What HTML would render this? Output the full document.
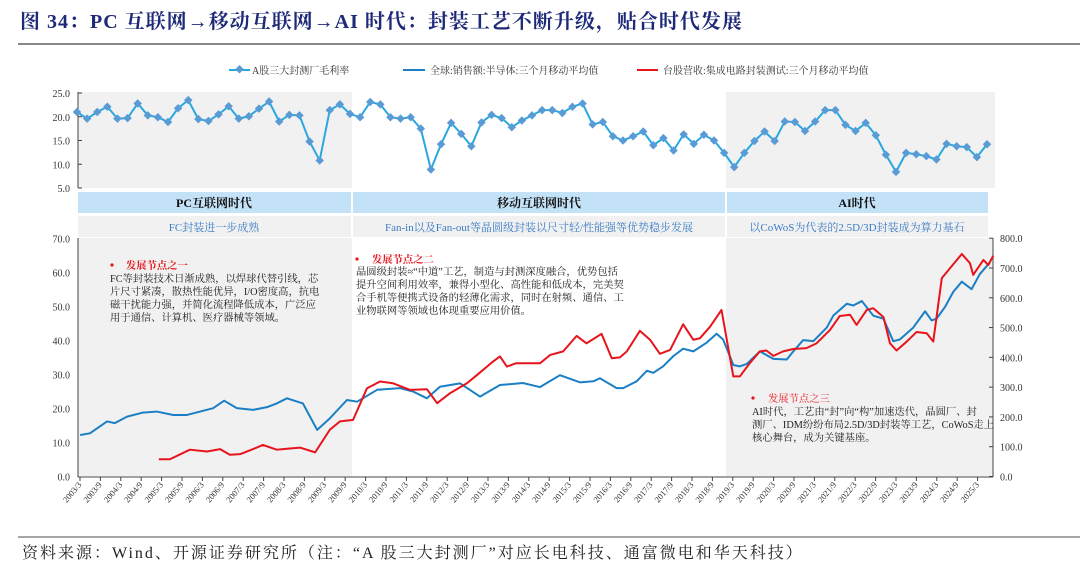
<!DOCTYPE html>
<html><head><meta charset="utf-8">
<style>
html,body{margin:0;padding:0;background:#fff;}
body{width:1080px;height:573px;overflow:hidden;font-family:"Liberation Serif","Noto Serif CJK SC",serif;}
svg text{font-family:"Liberation Serif","Noto Serif CJK SC",serif;}
</style></head>
<body>
<svg id="chart" width="1080" height="573" viewBox="0 0 1080 573" xmlns="http://www.w3.org/2000/svg">
  <text x="20" y="28" font-size="20" font-weight="bold" fill="#1e2a78" letter-spacing="1">图 34：PC 互联网→移动互联网→AI 时代：封装工艺不断升级，贴合时代发展</text>
  <line x1="18" y1="44" x2="1080" y2="44" stroke="#888" stroke-width="2"/>
  <g font-size="10" fill="#333">
    <g>
      <line x1="229" y1="70" x2="250" y2="70" stroke="#29a8e0" stroke-width="2"/>
      <rect x="236" y="66.5" width="6" height="6" transform="rotate(45 239.5 70)" fill="#5b9bd5"/>
      <text x="252" y="74">A股三大封测厂毛利率</text>
    </g>
    <g>
      <line x1="403" y1="70" x2="425" y2="70" stroke="#1a7fc4" stroke-width="2"/>
      <text x="430" y="74">全球:销售额:半导体:三个月移动平均值</text>
    </g>
    <g>
      <line x1="637" y1="70" x2="658" y2="70" stroke="#e8141b" stroke-width="2"/>
      <text x="663" y="74">台股营收:集成电路封装测试:三个月移动平均值</text>
    </g>
  </g>
  <g id="topChart"></g>
  <g>
    <rect x="78" y="192" width="273" height="21" fill="#c4e2f7"/>
    <rect x="353" y="192" width="372" height="21" fill="#c4e2f7"/>
    <rect x="727" y="192" width="261" height="21" fill="#c4e2f7"/>
    <text x="214" y="207" text-anchor="middle" font-size="12" font-weight="bold" fill="#111">PC互联网时代</text>
    <text x="539" y="207" text-anchor="middle" font-size="12" font-weight="bold" fill="#111">移动互联网时代</text>
    <text x="857" y="207" text-anchor="middle" font-size="12" font-weight="bold" fill="#111">AI时代</text>
    <rect x="78" y="216" width="273" height="21" fill="#f1f1f1"/>
    <rect x="353" y="216" width="372" height="21" fill="#f1f1f1"/>
    <rect x="727" y="216" width="261" height="21" fill="#f1f1f1"/>
    <text x="214" y="231" text-anchor="middle" font-size="11" fill="#3b7cc4">FC封装进一步成熟</text>
    <text x="539" y="231" text-anchor="middle" font-size="11" fill="#3b7cc4">Fan-in以及Fan-out等晶圆级封装以尺寸轻/性能强等优势稳步发展</text>
    <text x="857" y="231" text-anchor="middle" font-size="11" fill="#3b7cc4">以CoWoS为代表的2.5D/3D封装成为算力基石</text>
  </g>
  <g id="bottomChart"></g>
  <g font-size="10.3" fill="#222">
    <circle cx="112" cy="265" r="1.6" fill="#e8141b"/>
    <text x="126" y="269" fill="#e8141b" font-weight="bold">发展节点之一</text>
    <text x="110" y="282">FC等封装技术日渐成熟，以焊球代替引线，芯</text>
    <text x="110" y="295">片尺寸紧凑，散热性能优异，I/O密度高，抗电</text>
    <text x="110" y="308">磁干扰能力强，并简化流程降低成本，广泛应</text>
    <text x="110" y="321">用于通信、计算机、医疗器械等领域。</text>
  </g>
  <g font-size="10.3" fill="#222">
    <circle cx="357" cy="259" r="1.6" fill="#e8141b"/>
    <text x="372" y="263" fill="#e8141b" font-weight="bold">发展节点之二</text>
    <text x="356" y="275">晶圆级封装≈“中道”工艺，制造与封测深度融合，优势包括</text>
    <text x="356" y="288">提升空间利用效率，兼得小型化、高性能和低成本，完美契</text>
    <text x="356" y="301">合手机等便携式设备的轻薄化需求，同时在射频、通信、工</text>
    <text x="356" y="314">业物联网等领域也体现重要应用价值。</text>
  </g>
  <g font-size="10.3" fill="#222">
    <circle cx="753" cy="398" r="1.6" fill="#e8141b"/>
    <text x="768" y="402" fill="#e8141b">发展节点之三</text>
    <text x="752" y="415">AI时代，工艺由“封”向“构”加速迭代，晶圆厂、封</text>
    <text x="752" y="428">测厂、IDM纷纷布局2.5D/3D封装等工艺，CoWoS走上</text>
    <text x="752" y="441">核心舞台，成为关键基座。</text>
  </g>
  <line x1="18" y1="537" x2="1080" y2="537" stroke="#888" stroke-width="1.5"/>
  <text x="22" y="558" font-size="16" fill="#222" letter-spacing="2">资料来源：Wind、开源证券研究所（注：“A 股三大封测厂”对应长电科技、通富微电和华天科技）</text>
</svg>
<script>
const marginValues = [21.0,19.6,21.0,22.1,19.6,19.7,22.8,20.3,19.9,18.9,21.8,23.5,19.5,19.1,20.5,22.2,19.6,20.1,21.7,23.2,19.0,20.4,20.3,14.8,10.8,21.4,22.6,20.6,19.9,23.1,22.6,19.9,19.6,19.9,17.5,8.9,14.2,18.7,16.4,13.8,18.8,20.4,19.7,17.8,19.2,20.3,21.4,21.4,20.8,22.1,22.8,18.4,18.9,15.9,15.0,15.9,16.9,14.0,15.5,12.9,16.3,14.3,16.2,15.0,12.4,9.4,12.4,14.9,16.9,14.9,19.0,18.9,17.0,19.0,21.4,21.4,18.3,17.0,18.7,16.1,12.0,8.4,12.4,12.1,11.7,11.0,14.3,13.8,13.6,11.5,14.2];
const topTicks = [5.0,10.0,15.0,20.0,25.0];
const blueDates = [2003.17,2003.41,2003.83,2004.02,2004.32,2004.71,2005.05,2005.45,2005.79,2006.11,2006.43,2006.70,2007.01,2007.41,2007.75,2007.99,2008.24,2008.63,2008.98,2009.29,2009.71,2009.96,2010.45,2011.01,2011.33,2011.67,2011.99,2012.48,2012.97,2013.46,2014.02,2014.44,2014.93,2015.42,2015.75,2015.91,2016.32,2016.48,2016.81,2017.06,2017.22,2017.46,2017.71,2017.95,2018.20,2018.53,2018.77,2018.93,2019.18,2019.34,2019.51,2019.83,2020.16,2020.49,2020.65,2020.89,2021.14,2021.47,2021.63,2021.96,2022.12,2022.33,2022.61,2022.86,2023.10,2023.26,2023.59,2023.88,2024.04,2024.16,2024.37,2024.57,2024.78,2025.02,2025.22,2025.47];
const blueValues = [12.2,12.7,16.2,15.7,17.6,18.8,19.1,18.1,18.1,19.1,20.1,22.3,20.1,19.6,20.4,21.5,23.0,21.5,13.7,17.1,22.5,22.0,25.5,26.0,25.0,23.0,26.4,27.4,23.5,26.9,27.5,26.3,29.8,27.7,28.0,28.9,26.0,26.0,28.0,31.1,30.5,32.4,35.4,37.6,36.8,39.4,42.0,40.3,32.8,32.4,33.1,36.8,34.6,34.4,36.8,40.1,39.8,43.8,47.3,50.8,50.3,51.6,47.3,46.4,39.8,40.3,43.8,48.6,45.9,46.4,49.9,54.3,57.3,55.1,59.5,63.0];
const redDates = [2005.10,2005.37,2005.86,2006.28,2006.60,2006.84,2007.09,2007.41,2007.65,2007.99,2008.24,2008.56,2008.93,2009.29,2009.54,2009.86,2010.20,2010.52,2010.84,2011.25,2011.67,2011.92,2012.24,2012.65,2012.90,2013.29,2013.46,2013.63,2013.85,2014.44,2014.69,2015.01,2015.34,2015.58,2015.95,2016.20,2016.40,2016.57,2016.89,2017.14,2017.38,2017.63,2017.95,2018.20,2018.36,2018.61,2018.89,2019.18,2019.34,2019.58,2019.83,2019.99,2020.16,2020.40,2020.65,2020.97,2021.22,2021.55,2021.79,2022.04,2022.20,2022.45,2022.61,2022.86,2023.02,2023.18,2023.43,2023.67,2023.92,2024.08,2024.29,2024.49,2024.78,2024.98,2025.06,2025.31,2025.43,2025.55];
const redValues = [58,58,90,84,92,73,75,92,106,90,93,97,81,157,185,190,296,319,313,291,293,246,280,313,341,386,403,369,380,380,408,420,472,447,479,397,400,420,489,459,412,425,511,459,464,503,559,336,336,380,420,423,405,420,428,431,447,492,539,543,509,559,565,535,447,423,453,485,481,453,666,699,747,716,677,727,710,741];
const leftTicks = [0,10,20,30,40,50,60,70];
const rightTicks = [0,100,200,300,400,500,600,700,800];
const xTickLabels = [];
for (let y = 2003; y <= 2025; y++) { xTickLabels.push(y + '/3'); if (y < 2025) xTickLabels.push(y + '/9'); }

const NS = 'http://www.w3.org/2000/svg';
function mk(tag, attrs, parent) { const e = document.createElementNS(NS, tag); for (const k in attrs) e.setAttribute(k, attrs[k]); parent.appendChild(e); return e; }

const topY = v => 93 + (25 - v) * 4.75;
const topX = i => 77 + i * (910 / (marginValues.length - 1));
const xDate = d => 80 + (d - 2003.167) * 40.8;
const yLeft = v => 476.5 - v * 3.4;
const yRight = v => 476.5 - v * (238.3 / 800);

const topG = document.getElementById('topChart');
const s1 = mk('rect', {x:78, y:92, width:274, height:96, fill:'#f1f1f1'}, topG);


const s2 = mk('rect', {x:726, y:92, width:269, height:96, fill:'#f1f1f1'}, topG);


const ta = mk('line', {x1:78, y1:92, x2:78, y2:188, stroke:'#444', 'stroke-width':1}, topG);


topTicks.forEach(t => {
  const tx = mk('text', {x:70, y:topY(t) + 4, 'text-anchor':'end', 'font-size':'10', fill:'#333'}, topG);
  tx.textContent = t.toFixed(1);
  
  
  mk('line', {x1:78, y1:topY(t), x2:82, y2:topY(t), stroke:'#444'}, topG);
});
const mLine = mk('polyline', {points: marginValues.map((v, i) => topX(i) + ',' + topY(v)).join(' '), fill:'none', stroke:'#29a8e0', 'stroke-width':2}, topG);


marginValues.forEach((v, i) => {
  const x = topX(i), y = topY(v);
  const m = mk('rect', {x:x - 3, y:y - 3, width:6, height:6, transform:'rotate(45 ' + x + ' ' + y + ')', fill:'#5b9bd5'}, topG);
  
  
});

const botG = document.getElementById('bottomChart');
const b1 = mk('rect', {x:78, y:238, width:274, height:238, fill:'#f1f1f1'}, botG);


const b2 = mk('rect', {x:726, y:238, width:267, height:238, fill:'#f1f1f1'}, botG);


const la = mk('line', {x1:78, y1:238, x2:78, y2:477, stroke:'#444'}, botG);


const ra = mk('line', {x1:993, y1:238, x2:993, y2:477, stroke:'#444'}, botG);


const xa = mk('line', {x1:78, y1:477, x2:993, y2:477, stroke:'#444'}, botG);


leftTicks.forEach(t => {
  const tx = mk('text', {x:70, y:yLeft(t) + 4, 'text-anchor':'end', 'font-size':'10', fill:'#333'}, botG);
  tx.textContent = t.toFixed(1);
  
  
});
rightTicks.forEach(t => {
  const tx = mk('text', {x:1000, y:yRight(t) + 4, 'font-size':'10', fill:'#333'}, botG);
  tx.textContent = t.toFixed(1);
  
  
  mk('line', {x1:989, y1:yRight(t), x2:993, y2:yRight(t), stroke:'#444'}, botG);
});
xTickLabels.forEach(lab => {
  const parts = lab.split('/');
  const d = +parts[0] + (+parts[1] - 1) / 12;
  const x = xDate(d);
  mk('line', {x1:x, y1:477, x2:x, y2:481, stroke:'#444'}, botG);
  const tx = mk('text', {x:x + 2, y:485, 'text-anchor':'end', 'font-size':'8.5', fill:'#333', transform:'rotate(-50 ' + (x + 2) + ' 485)'}, botG);
  tx.textContent = lab;
  
  
});
const bl = mk('polyline', {points: blueValues.map((v, i) => xDate(blueDates[i]) + ',' + yLeft(v)).join(' '), fill:'none', stroke:'#1a7fc4', 'stroke-width':2, 'stroke-linejoin':'round'}, botG);


const rl = mk('polyline', {points: redValues.map((v, i) => xDate(redDates[i]) + ',' + yRight(v)).join(' '), fill:'none', stroke:'#e8141b', 'stroke-width':2, 'stroke-linejoin':'round'}, botG);


</script>
</body></html>
